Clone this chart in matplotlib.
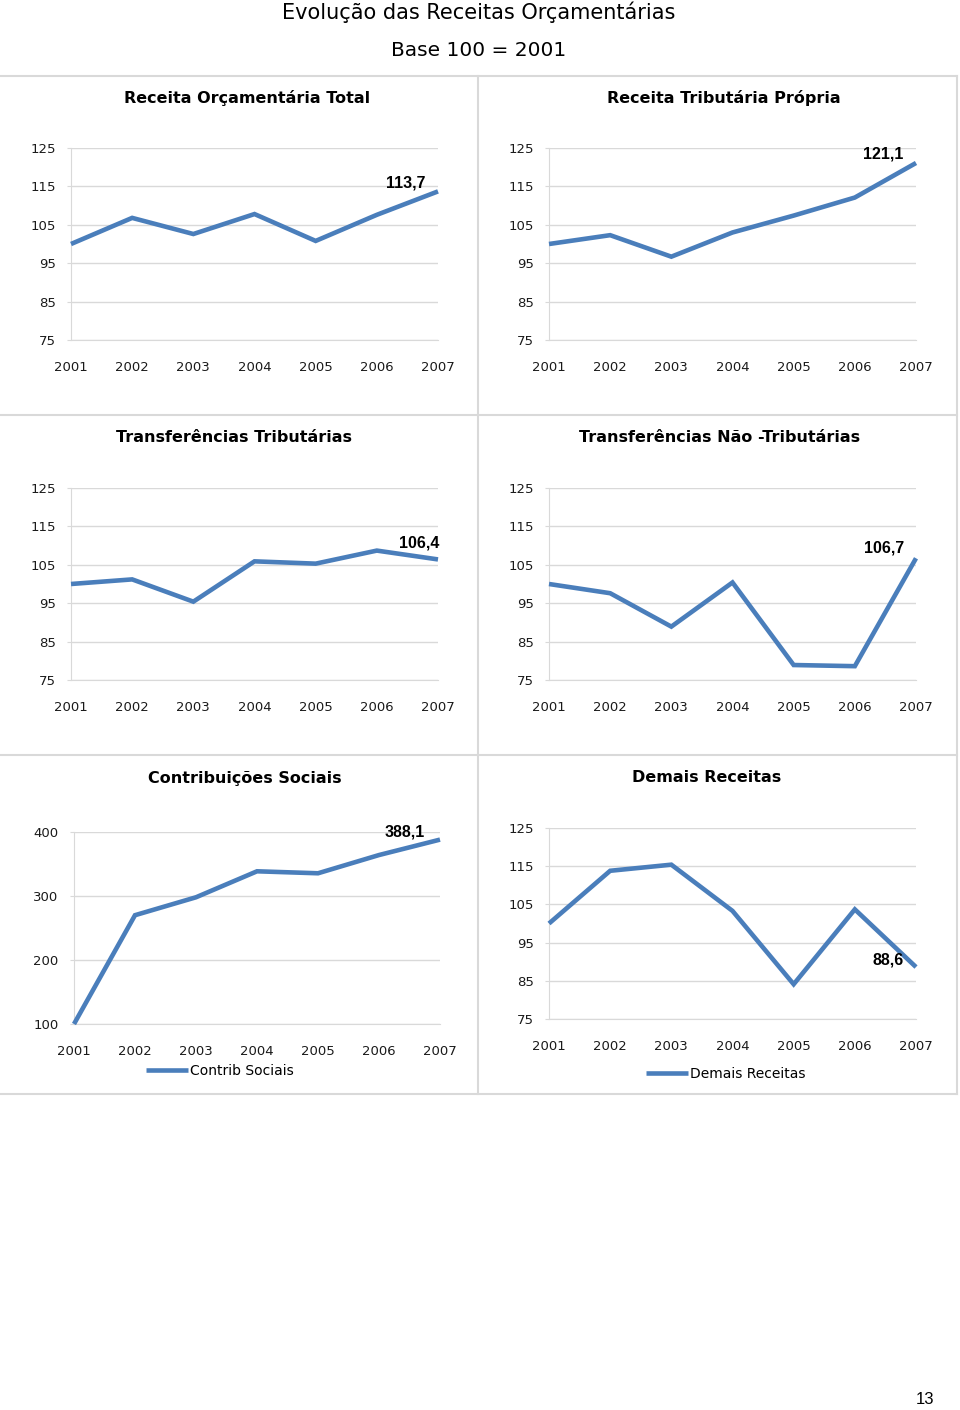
import matplotlib
matplotlib.use("Agg")
import matplotlib.pyplot as plt
from matplotlib.lines import Line2D

# Data (indice, base 100 = 2001)
years = [2001, 2002, 2003, 2004, 2005, 2006, 2007]
receita_total = [100, 106.8, 102.6, 107.8, 100.8, 107.6, 113.7]
receita_trib_propria = [100, 102.3, 96.7, 103.0, 107.4, 112.1, 121.1]
transf_trib = [100, 101.2, 95.4, 105.9, 105.3, 108.7, 106.4]
transf_nao_trib = [100, 97.6, 88.9, 100.4, 78.9, 78.6, 106.7]
contrib_sociais = [100, 270, 298, 338.6, 335.5, 364, 388.1]
demais_receitas = [100, 113.8, 115.4, 103.3, 84.1, 103.7, 88.6]

ticks_std = [75, 85, 95, 105, 115, 125]
ticks_contrib = [100, 200, 300, 400]

titles = ["Receita Orçamentária Total", "Receita Tributária Própria",
          "Transferências Tributárias", "Transferências Não -Tributárias",
          "Contribuições Sociais", "Demais Receitas"]
legend_labels = [None, None, None, None, "Contrib Sociais", "Demais Receitas"]

W, H = 960, 1410
line_color = "#4a7ebb"
grid_color = "#d9d9d9"

fig = plt.figure(figsize=(W / 100, H / 100), dpi=100)
fig.patch.set_facecolor("white")


def fx(x):
    return x / W


def fy(y):
    return 1 - y / H


# panel layout in pixels: (left, right, top, bottom), title position, label offset, legend pos
panels = [
    dict(data=receita_total, ticks=ticks_std, box=(71, 438, 148, 340), title=(247, 98), off=(-32, 8), leg=None),
    dict(data=receita_trib_propria, ticks=ticks_std, box=(549, 916, 148, 340), title=(724, 98), off=(-33, 9), leg=None),
    dict(data=transf_trib, ticks=ticks_std, box=(71, 438, 488, 680), title=(234, 438), off=(-19, 16), leg=None),
    dict(data=transf_nao_trib, ticks=ticks_std, box=(549, 916, 488, 680), title=(720, 438), off=(-32, 10), leg=None),
    dict(data=contrib_sociais, ticks=ticks_contrib, box=(74, 440, 832, 1024), title=(245, 778), off=(-35, 8), leg=(220, 1071)),
    dict(data=demais_receitas, ticks=ticks_std, box=(549, 916, 828, 1019), title=(707, 778), off=(-28, 7), leg=(726, 1074)),
]

for i, p in enumerate(panels):
    l, r, t, b = p["box"]
    ax = fig.add_axes([fx(l), fy(b), (r - l) / W, (b - t) / H])
    ln, = ax.plot(years, p["data"], color=line_color, lw=3.3, clip_on=False,
                  solid_joinstyle="miter", solid_capstyle="butt", zorder=3)
    ax.set_xlim(2001, 2007)
    ax.set_ylim(p["ticks"][0], p["ticks"][-1])
    ax.set_xticks(years)
    ax.set_yticks(p["ticks"])
    ax.yaxis.grid(True, color=grid_color, lw=1)
    ax.set_axisbelow(True)
    for s in ["top", "right"]:
        ax.spines[s].set_visible(False)
    ax.spines["left"].set_color(grid_color)
    ax.spines["bottom"].set_color(grid_color)
    ax.tick_params(axis="y", length=3, color=grid_color, pad=8, labelsize=9.5, labelcolor="#1a1a1a")
    ax.tick_params(axis="x", length=0, pad=15, labelsize=9.5, labelcolor="#1a1a1a")

    v = p["data"][-1]
    ax.annotate(f"{v:.1f}".replace(".", ","), (years[-1], v), xytext=p["off"],
                textcoords="offset pixels", ha="center", va="center",
                fontsize=11.5, fontweight="bold", family="Liberation Sans")

    fig.text(fx(p["title"][0]), fy(p["title"][1]), titles[i], ha="center", va="center",
             fontsize=11.5, fontweight="bold")

    if p["leg"] is not None:
        ax.legend([ln], [legend_labels[i]], loc="center",
                  bbox_to_anchor=(fx(p["leg"][0]), fy(p["leg"][1])),
                  bbox_transform=fig.transFigure, frameon=False, fontsize=10,
                  handlelength=3.0, handletextpad=0.2, borderpad=0)

# panel borders
for y in [76, 415, 755, 1094]:
    fig.add_artist(Line2D([0, fx(957)], [fy(y), fy(y)], color=grid_color, lw=1.5))
for x in [478, 957]:
    fig.add_artist(Line2D([fx(x), fx(x)], [fy(76), fy(1094)], color=grid_color, lw=1.5))

fig.text(fx(479), fy(12), "Evolução das Receitas Orçamentárias", ha="center", va="center", fontsize=15)
fig.text(fx(479), fy(50), "Base 100 = 2001", ha="center", va="center", fontsize=14.5)
fig.text(fx(925), fy(1400), "13", ha="center", va="center", fontsize=12, family="Liberation Sans")

fig.savefig("out.png", dpi=100, facecolor="white")
